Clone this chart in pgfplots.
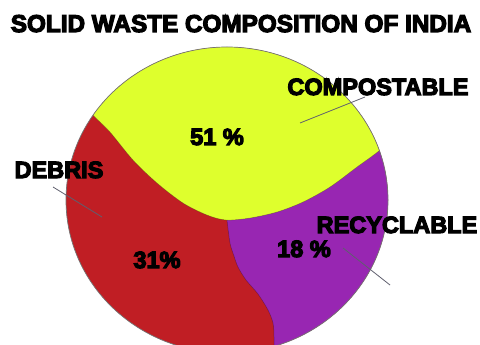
\documentclass[border=0pt]{standalone}
\usepackage{fontspec}
\newfontfamily\heavy{Liberation Sans Bold}[FakeBold=5]
\usepackage{pgfplots}
\pgfplotsset{compat=1.18}

\definecolor{compost}{RGB}{222,255,45}
\definecolor{debris}{RGB}{192,30,36}
\definecolor{recycl}{RGB}{152,38,178}
\definecolor{leader}{RGB}{95,95,110}

\tikzset{lbl/.style={font=\heavy\fontsize{23.5bp}{28bp}\selectfont, inner sep=0pt, anchor=base, text=black}}

\begin{document}
\begin{tikzpicture}
\begin{axis}[
  scale only axis, width=480bp, height=344bp,
  xmin=0, xmax=480, ymin=0, ymax=344,
  hide axis,
  axis background/.style={fill=white},
]
\begin{scope}
  \clip (axis cs:227,144) ellipse [x radius=161, y radius=153];
  % DEBRIS (31 %): base colour of the whole disc
  \addplot[draw=none, fill=debris] coordinates {(40,-40) (420,-40) (420,330) (40,330)};
  % RECYCLABLE (18 %): right of the lower divider
  \addplot[draw=none, fill=recycl, smooth] coordinates {
    (274,-40) (274,-16) (274,7) (273,21) (268,34) (258,50) (246,64) (238,77)
    (234,88) (230,101) (227,124) (225,150) (224,175) (430,260) (480,100) (430,-40)};
  % COMPOSTABLE (51 %): upper part of the disc
  \addplot[draw=none, fill=compost, smooth] coordinates {
    (54,277) (67,261) (80,245) (93,229) (110,212) (133,184) (157,161) (183,141)
    (207,129) (226,124) (250,126) (277,132) (303,142) (330,157) (357,177)
    (380,194) (400,214) (420,236) (470,330) (240,420) (10,330)};
  % dividers
  \addplot[smooth, draw=black, draw opacity=0.3, line width=0.5pt] coordinates {
    (80,245) (93,229) (110,212) (133,184) (157,161) (183,141) (207,129) (226,124)
    (250,126) (277,132) (303,142) (330,157) (357,177) (380,194) (400,214)};
  \addplot[smooth, draw=black, draw opacity=0.3, line width=0.5pt] coordinates {
    (227,124) (230,101) (234,88) (238,77) (246,64) (258,50) (268,34) (273,21) (274,7) (274,-16)};
\end{scope}
\draw[black!55, line width=0.7pt] (axis cs:227,144) ellipse [x radius=161, y radius=153];

% leader lines
\addplot[leader, line width=0.8pt] coordinates {(300,221) (365,247)};
\addplot[leader, line width=0.8pt] coordinates {(53,157) (102,127)};
\addplot[leader, line width=0.8pt] coordinates {(343,96) (390,59)};

% labels
\node[lbl, font=\heavy\fontsize{24.3bp}{28bp}\selectfont] at (axis cs:241,312) {SOLID WASTE COMPOSITION OF INDIA};
\node[lbl] at (axis cs:378,249) {COMPOSTABLE};
\node[lbl] at (axis cs:217,199) {51 \%};
\node[lbl] at (axis cs:59,166) {DEBRIS};
\node[lbl] at (axis cs:157,76) {31\%};
\node[lbl] at (axis cs:397,111) {RECYCLABLE};
\node[lbl] at (axis cs:304,87) {18 \%};
\end{axis}
\end{tikzpicture}
\end{document}
